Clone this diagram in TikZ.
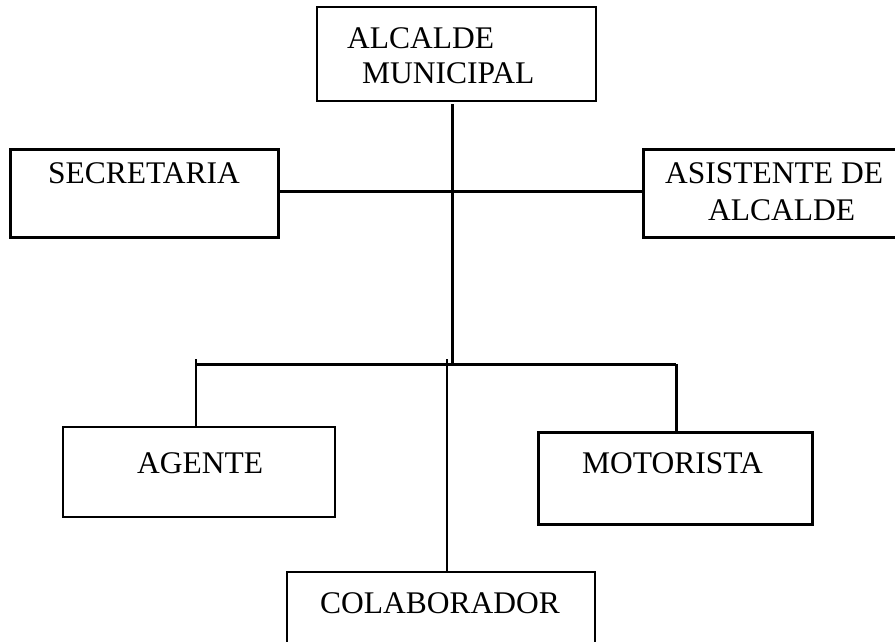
\documentclass[tikz,border=0pt]{standalone}
\usepackage{fontspec}
\setmainfont{Liberation Serif}
\begin{document}
\begin{tikzpicture}[x=1pt,y=-1pt,
  box/.style={draw=black,rectangle,inner sep=0pt,outer sep=0pt},
  thinbox/.style={box,line width=1.5pt},
  thickbox/.style={box,line width=3pt},
  lbl/.style={anchor=base west,inner sep=0pt,font=\fontsize{31.5}{37}\selectfont},
  thinline/.style={line width=1.5pt,draw=black},
  thickline/.style={line width=3pt,draw=black}]
\useasboundingbox (0,0) rectangle (895,641);
\clip (0,0) rectangle (895,641);

% boxes
\node[thinbox,minimum width=279pt,minimum height=94pt] (alc) at (456.5,54) {};
\node[thickbox,minimum width=268pt,minimum height=88pt] (sec) at (144,193) {};
\node[thickbox,minimum width=262pt,minimum height=88pt] (asi) at (774,193) {};
\node[thinbox,minimum width=272pt,minimum height=90pt] (age) at (199,472) {};
\node[thickbox,minimum width=274pt,minimum height=92pt] (mot) at (675,478) {};
\node[thinbox,minimum width=308pt,minimum height=88pt] (col) at (441,616) {};

% labels
\node[lbl] (t1) at (347,48) {ALCALDE};
\node[lbl] (t2) at (362,83) {MUNICIPAL};
\node[lbl] (t3) at (48,183) {SECRETARIA};
\node[lbl] (t4) at (665,183) {ASISTENTE DE};
\node[lbl] (t5) at (708,220) {ALCALDE};
\node[lbl] (t6) at (137,473) {AGENTE};
\node[lbl] (t7) at (582,473) {MOTORISTA};
\node[lbl] (t8) at (320,613) {COLABORADOR};

% junction points
\coordinate (mid) at (452,191);
\coordinate (bar) at (452,364);
\coordinate (lft) at (196,364);
\coordinate (rgt) at (676,364);
\coordinate (ltop) at (196,359);
\coordinate (ctop) at (447,359);

% connectors
\draw[thickline] ([yshift=-3pt]alc.south -| bar) -- (bar);
\draw[thickline] (sec.east |- mid) -- (asi.west |- mid);
\draw[thickline] (lft) -- (rgt);
\draw[thickline] (rgt) -- (rgt |- mot.north);
\draw[thinline] (ltop) -- (ltop |- age.north);
\draw[thinline] (ctop) -- (ctop |- col.north);
\end{tikzpicture}
\end{document}
